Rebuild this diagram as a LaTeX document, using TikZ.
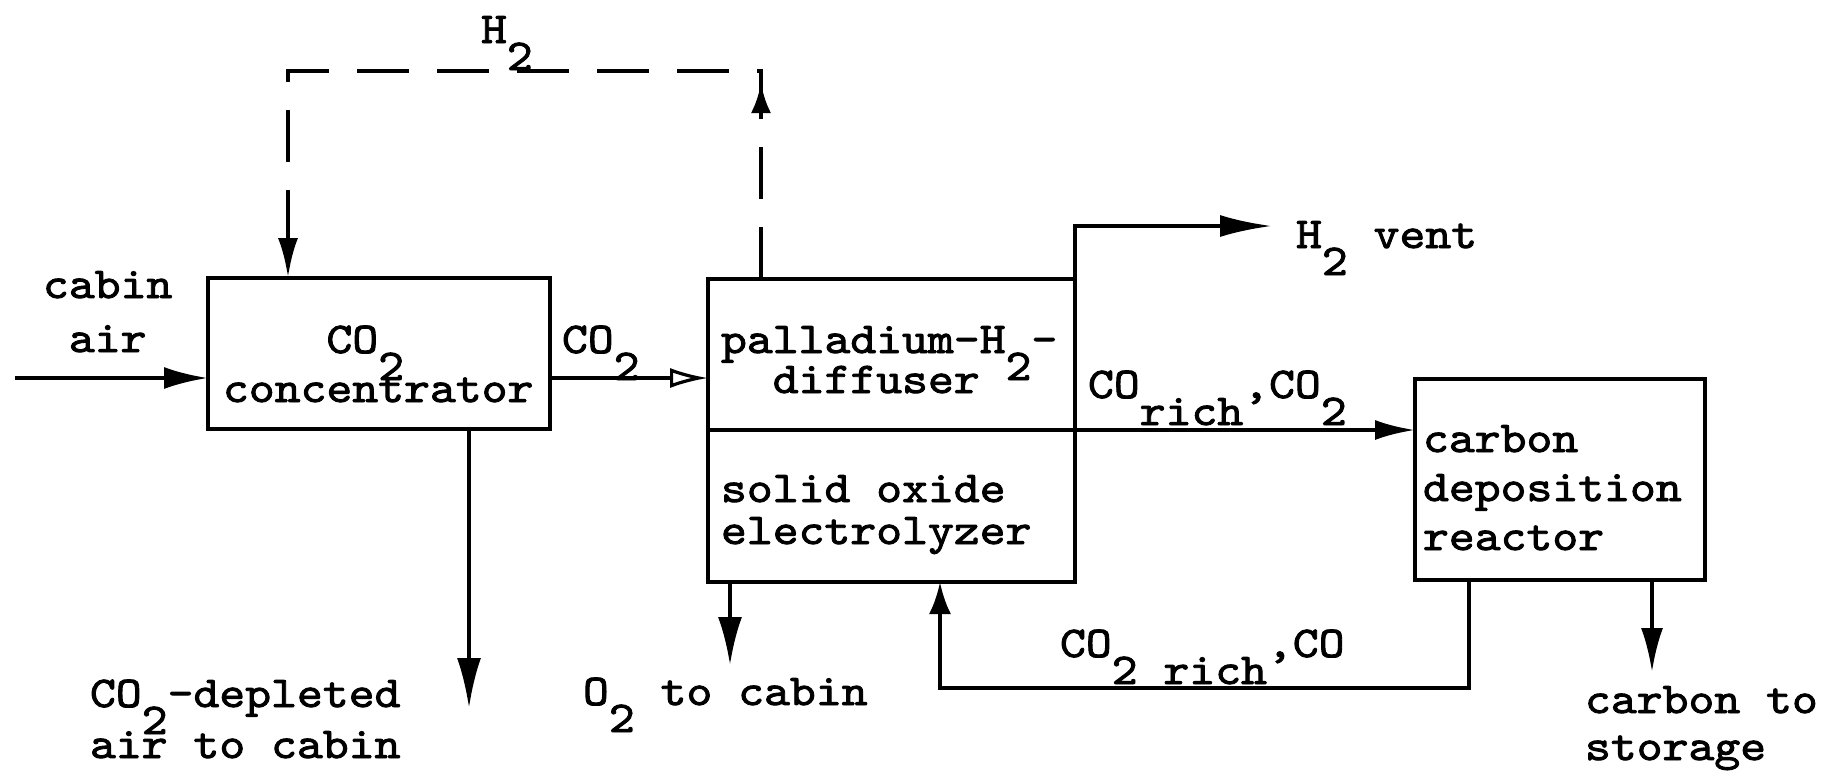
\documentclass[tikz,border=0pt]{standalone}
\usepackage{fontspec}
\setmonofont{lmmono10-regular.otf}[FakeStretch=1.12,FakeBold=2]
\usetikzlibrary{arrows.meta,decorations.markings}
\newcommand\lowr[1]{\smash{\raisebox{-13.5pt}{#1}}}
\newcommand\stacklines[2]{\vtop{\baselineskip=#1\relax\lineskiplimit=-100pt\relax #2}}
\begin{document}
\begin{tikzpicture}[x=0.5pt,y=-0.5pt,
  every node/.style={font=\ttfamily\fontsize{22pt}{24pt}\selectfont, inner sep=0pt, outer sep=0pt},
  box/.style={draw, line width=1.8pt, rectangle},
  txt/.style={anchor=base west},
  flow/.style={line width=2pt},
  arr/.style={flow, -{Latex[length=22pt,width=11pt]}},
  openarr/.style={flow, -{Latex[open,length=19pt,width=10pt,line width=1.6pt]}},
  h2line/.style={line width=2.4pt, dash pattern=on 26pt off 14pt}]
\useasboundingbox (0,0) rectangle (1842,773);

% boxes
\node[box, minimum width=171pt, minimum height=75.5pt] (conc) at (379,353.5) {};
\node[box, minimum width=183.5pt, minimum height=75.5pt] (pd) at (891.5,354.5) {};
\node[box, minimum width=183.5pt, minimum height=76pt] (el) at (891.5,506) {};
\node[box, minimum width=145pt, minimum height=100.5pt] (cr) at (1560,479.5) {};

% texts
\node[txt] (tcabin) at (43,298) {\stacklines{27pt}{\hbox{cabin}\hbox{\phantom{x}air}}};
\node[txt] (tconc) at (223,353) {\stacklines{24.5pt}{\hbox{\phantom{xxxx}CO\lowr{2}}\hbox{concentrator}}};
\node[txt] (tco2) at (562,353) {CO\lowr{2}};
\node[txt] (tpd) at (721,353) {\stacklines{20pt}{\hbox{palladium-H\lowr{2}-}\hbox{\phantom{xx}diffuser}}};
\node[txt] (tel) at (721,502) {\stacklines{21pt}{\hbox{solid oxide}\hbox{electrolyzer}}};
\node[txt] (th2) at (481,43) {H\lowr{2}};
\node[txt] (tvent) at (1296,248) {H\lowr{2} vent};
\node[txt] (tcorich) at (1088,398) {CO\lowr{rich},CO\lowr{2}};
\node[txt] (tcr) at (1423,452) {\stacklines{24.5pt}{\hbox{carbon}\hbox{deposition}\hbox{reactor}}};
\node[txt] (tco2rich) at (1060,657) {CO\lowr{2 rich},CO};
\node[txt] (to2) at (583,705) {O\lowr{2} to cabin};
\node[txt] (tdep) at (90,707) {\stacklines{25.5pt}{\hbox{CO\lowr{2}-depleted}\hbox{air to cabin}}};
\node[txt] (tstor) at (1585,713) {\stacklines{23.5pt}{\hbox{carbon to}\hbox{storage}}};

% helper coordinates
\coordinate (in) at (15,378);
\coordinate (h2r) at (761,71);
\coordinate (h2l) at (288,71);
\coordinate (vent) at (1272,226);
\coordinate (o2) at (730,665);
\coordinate (dep) at (469,708);
\coordinate (r1) at (1469,688);
\coordinate (r2) at (940,688);
\coordinate (stor) at (1652,672);

% connectors
\draw[arr] (in) -- (in -| conc.west);
\draw[openarr] (conc.east |- in) -- (pd.west |- in);
\draw[h2line, -{Latex[length=20pt,width=10pt]},
  postaction={decorate},
  decoration={markings, mark=at position 98pt with {\arrow{Latex[length=15pt,width=10pt]}}}]
  (pd.north -| h2r) -- (h2r) -- (h2l) -- (h2l |- conc.north);
\draw[arr, -{Latex[length=26pt,width=11pt]}] (pd.north east) |- (vent);
\draw[arr, -{Latex[length=20pt,width=10pt]}] (pd.south east) -- (pd.south east -| cr.west);
\draw[arr, -{Latex[length=24pt,width=12pt]}] (o2 |- el.south) -- (o2);
\draw[arr, -{Latex[length=25pt,width=12pt]}] (dep |- conc.south) -- (dep);
\draw[arr, -{Latex[length=16pt,width=11pt]}] (r1 |- cr.south) -- (r1) -- (r2) -- (r2 |- el.south);
\draw[arr] (stor |- cr.south) -- (stor);
\end{tikzpicture}
\end{document}
